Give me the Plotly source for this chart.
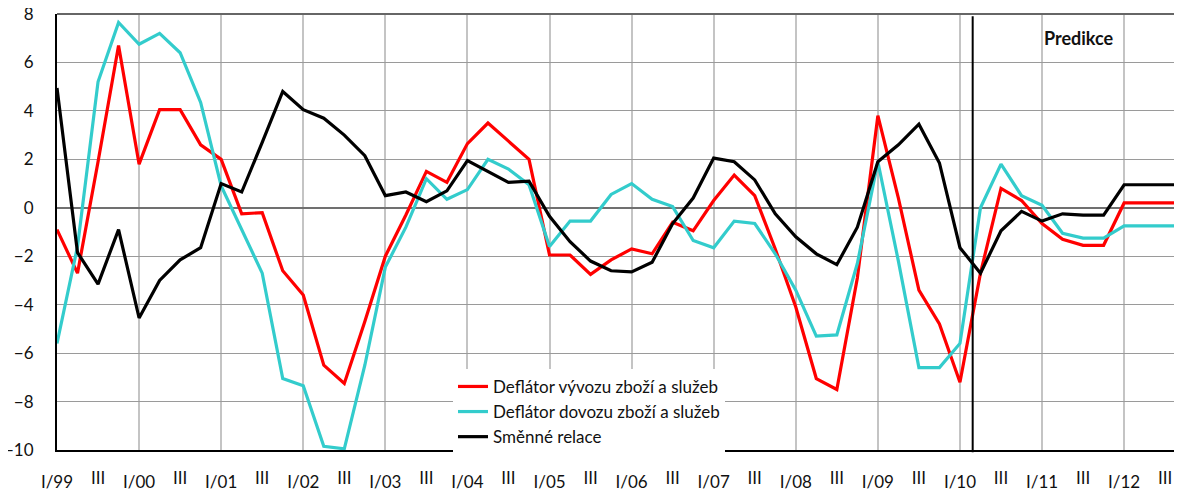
import plotly.graph_objects as go

years = ["99", "00", "01", "02", "03", "04", "05", "06", "07", "08", "09", "10", "11", "12"]
quarters = [f"{q}/{y}" for y in years for q in ["I", "II", "III", "IV"]]

export_defl = [-0.9, -2.7, 1.9, 6.7, 1.8, 4.05, 4.05, 2.6, 2.0, -0.25, -0.2, -2.6, -3.6, -6.5,
               -7.25, -4.7, -2.0, -0.3, 1.5, 1.05, 2.65, 3.5, 2.75, 2.0, -1.95, -1.95, -2.75, -2.15,
               -1.7, -1.9, -0.6, -0.95, 0.3, 1.35, 0.5, -1.7, -4.1, -7.05, -7.5, -2.9, 3.8, 0.4,
               -3.4, -4.8, -7.2, -2.7, 0.8, 0.3, -0.65, -1.3, -1.55, -1.55, 0.2, 0.2, 0.2, 0.2]
import_defl = [-5.6, -1.6, 5.2, 7.65, 6.75, 7.2, 6.4, 4.35, 0.9, -0.9, -2.7, -7.05, -7.35, -9.85,
               -9.95, -6.5, -2.45, -0.8, 1.2, 0.35, 0.75, 2.0, 1.6, 0.95, -1.6, -0.55, -0.55, 0.55,
               1.0, 0.35, 0.05, -1.35, -1.65, -0.55, -0.65, -1.9, -3.4, -5.3, -5.25, -2.3, 1.9, -2.2,
               -6.6, -6.6, -5.6, 0.0, 1.8, 0.5, 0.1, -1.05, -1.25, -1.25, -0.75, -0.75, -0.75, -0.75]
terms_trade = [4.95, -1.85, -3.15, -0.9, -4.55, -3.0, -2.15, -1.65, 1.0, 0.65, 2.7, 4.8, 4.05, 3.7,
               3.0, 2.15, 0.5, 0.65, 0.25, 0.7, 1.95, 1.5, 1.05, 1.1, -0.35, -1.4, -2.2, -2.6,
               -2.65, -2.25, -0.65, 0.4, 2.05, 1.9, 1.15, -0.25, -1.2, -1.9, -2.35, -0.8, 1.9, 2.6,
               3.45, 1.85, -1.65, -2.7, -0.95, -0.15, -0.55, -0.25, -0.3, -0.3, 0.95, 0.95, 0.95, 0.95]

series_names = ["Deflátor vývozu zboží a služeb", "Deflátor dovozu zboží a služeb", "Směnné relace"]
series_colors = ["#FF0000", "#33CCCC", "#000000"]
forecast_start = 44.62
forecast_label = "Predikce"

x_idx = list(range(len(quarters)))
major_vals = [i for i, q in enumerate(quarters) if q.startswith("I/")]
major_text = [quarters[i] for i in major_vals]
minor_vals = [i for i, q in enumerate(quarters) if q.startswith("III/")]
minor_text = ["III" for _ in minor_vals]

font_family = "Lato, 'Open Sans', sans-serif"
fs = 17

fig = go.Figure()
for name, vals, col in zip(series_names, [export_defl, import_defl, terms_trade], series_colors):
    fig.add_trace(go.Scatter(x=x_idx, y=vals, mode="lines", name=name,
                             line=dict(color=col, width=3.2), xaxis="x", yaxis="y"))

xr = [0, 54.82]
# page body has an 8px margin; figure sized so the plot area sits at x 57..1182, y 14..450
fig.update_layout(
    width=1174, height=486,
    margin=dict(l=49, r=0, t=6, b=44),
    paper_bgcolor="white", plot_bgcolor="white",
    font=dict(family=font_family, size=fs, color="#111111"),
    showlegend=True,
    legend=dict(x=0.352, y=0.186, xanchor="left", yanchor="top",
                bgcolor="white", borderwidth=0,
                font=dict(family=font_family, size=fs, color="#111111"),
                tracegroupgap=0, itemwidth=30),
    xaxis=dict(range=xr, tickmode="array", tickvals=major_vals, ticktext=major_text,
               showgrid=True, gridcolor="#c4c4c4", gridwidth=2,
               showline=True, linecolor="#000000", linewidth=2,
               ticks="", zeroline=False, ticklabelstandoff=16, automargin=False,
               ticklabeloverflow="allow",
               tickfont=dict(family=font_family, size=fs, color="#111111")),
    xaxis2=dict(range=xr, overlaying="x", anchor="y", side="bottom",
                tickmode="array", tickvals=minor_vals, ticktext=minor_text,
                showgrid=False, showline=False, ticks="", zeroline=False,
                ticklabelstandoff=16, automargin=False, ticklabeloverflow="allow",
                tickfont=dict(family=font_family, size=fs, color="#111111")),
    yaxis=dict(range=[-10, 8], tickmode="linear", tick0=-10, dtick=2,
               showgrid=True, gridcolor="#9a9a9a", gridwidth=1,
               zeroline=True, zerolinecolor="#707070", zerolinewidth=1.5,
               showline=True, linecolor="#000000", linewidth=2,
               ticks="", ticklabelstandoff=18, automargin=False,
               ticklabeloverflow="allow",
               tickfont=dict(family=font_family, size=fs, color="#111111")),
)

# Dummy invisible trace so the secondary label axis is rendered
fig.add_trace(go.Scatter(x=[xr[0]], y=[None], mode="lines", xaxis="x2", yaxis="y",
                         showlegend=False, hoverinfo="skip"))

# top border
fig.add_shape(type="line", xref="paper", yref="paper", x0=0, x1=1, y0=1, y1=1,
              line=dict(color="#666666", width=2))

# forecast divider
fig.add_shape(type="line", xref="x", yref="paper", x0=forecast_start, x1=forecast_start,
              y0=-0.005, y1=0.995, line=dict(color="#000000", width=2))

fig.add_annotation(x=49.8, y=7.0, xref="x", yref="y", text=f"<b>{forecast_label}</b>",
                   showarrow=False, font=dict(family=font_family, size=18, color="#111111"))

fig.write_html("out.html")
